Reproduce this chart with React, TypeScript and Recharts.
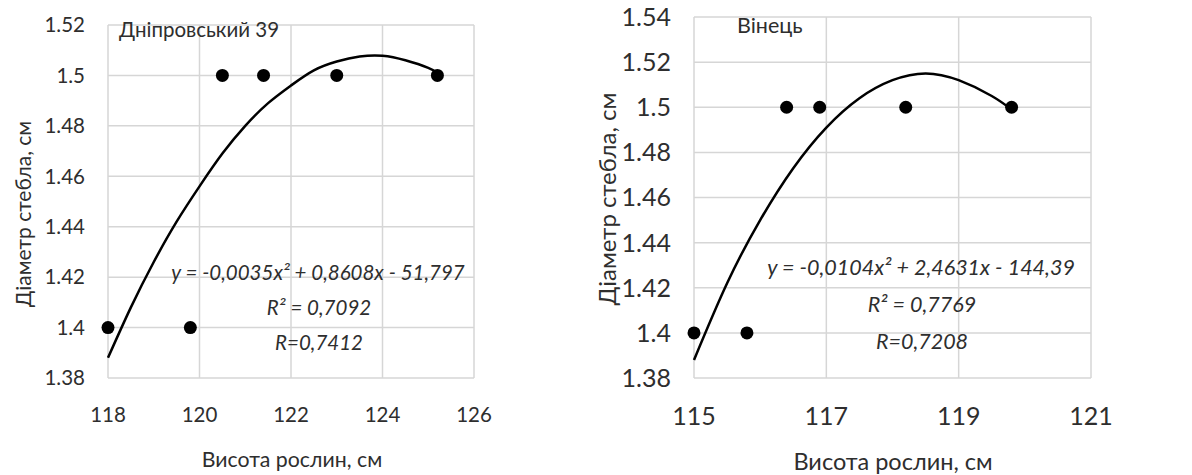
import React from 'react';
import { ComposedChart, Line, Scatter, XAxis, YAxis, CartesianGrid } from 'recharts';

// Дніпровський 39
const leftHeights = [118, 119.8, 120.5, 121.4, 123, 125.2];
const leftDiameters = [1.4, 1.4, 1.5, 1.5, 1.5, 1.5];
const leftTrendX = [118, 118.5, 119, 119.5, 120, 120.5, 121, 121.5, 122, 122.5, 123, 123.5, 124, 124.5, 125, 125.2];
const leftTrendY = [1.388, 1.408, 1.426, 1.442, 1.456, 1.469, 1.48, 1.489, 1.496, 1.502, 1.5055, 1.5075, 1.5078, 1.506, 1.503, 1.501];
const leftXTicks = [118, 120, 122, 124, 126];
const leftYTicks = [1.38, 1.4, 1.42, 1.44, 1.46, 1.48, 1.5, 1.52];

// Вінець
const rightHeights = [115, 115.8, 116.4, 116.9, 118.2, 119.8];
const rightDiameters = [1.4, 1.4, 1.5, 1.5, 1.5, 1.5];
const rightTrendX = [115, 115.5, 116, 116.5, 117, 117.5, 118, 118.5, 119, 119.5, 119.8];
const rightTrendY = [1.388, 1.422, 1.45, 1.473, 1.491, 1.504, 1.512, 1.515, 1.512, 1.505, 1.499];
const rightXTicks = [115, 117, 119, 121];
const rightYTicks = [1.38, 1.4, 1.42, 1.44, 1.46, 1.48, 1.5, 1.52, 1.54];

const FONT = 'Lato, "Open Sans", sans-serif';
const TXT = '#2e2e2e';

const zip = (xs: number[], ys: number[]) => xs.map((x, i) => ({ x, y: ys[i] }));

const Dot = (p: any) => <circle cx={p.cx} cy={p.cy} r={6.5} fill="#000" />;

type PanelProps = {
  left: number;
  width: number;
  margin: { top: number; right: number; left: number; bottom: number };
  yAxisWidth: number;
  xTicks: number[];
  yTicks: number[];
  points: { x: number; y: number }[];
  trend: { x: number; y: number }[];
  tickFont: number;
};

const Panel: React.FC<PanelProps> = ({ left, width, margin, yAxisWidth, xTicks, yTicks, points, trend, tickFont }) => (
  <div style={{ position: 'absolute', left, top: 0 }}>
    <ComposedChart width={width} height={475} margin={margin}>
      <CartesianGrid stroke="#d6d6d6" strokeWidth={1.5} />
      <XAxis
        type="number"
        dataKey="x"
        domain={[xTicks[0], xTicks[xTicks.length - 1]]}
        ticks={xTicks}
        axisLine={false}
        tickLine={false}
        tickSize={0}
        tickMargin={29}
        height={97}
        tick={{ fontSize: tickFont, fill: TXT, fontFamily: FONT }}
      />
      <YAxis
        type="number"
        dataKey="y"
        domain={[yTicks[0], yTicks[yTicks.length - 1]]}
        ticks={yTicks}
        axisLine={false}
        tickLine={false}
        tickSize={0}
        tickMargin={23}
        width={yAxisWidth}
        tick={{ fontSize: tickFont, fill: TXT, fontFamily: FONT }}
      />
      <Line data={trend} dataKey="y" type="natural" stroke="#000" strokeWidth={2.5} dot={false} isAnimationActive={false} />
      <Scatter data={points} dataKey="y" fill="#000" shape={Dot} isAnimationActive={false} />
    </ComposedChart>
  </div>
);

const Label: React.FC<{ x: number; y: number; size: number; italic?: boolean; rotate?: boolean; anchor?: 'left' | 'center'; children: React.ReactNode }> = ({ x, y, size, italic, rotate, anchor = 'center', children }) => (
  <div
    style={{
      position: 'absolute',
      left: x,
      top: y,
      transform: `translate(${anchor === 'center' ? '-50%' : '0'}, -50%)${rotate ? ' rotate(-90deg)' : ''}`,
      fontFamily: FONT,
      fontSize: size,
      fontStyle: italic ? 'italic' : 'normal',
      color: TXT,
      whiteSpace: 'nowrap',
      lineHeight: 1,
    }}
  >
    {children}
  </div>
);

export default function App() {
  return (
    <div style={{ position: 'absolute', left: 0, top: 0, width: 1192, height: 475, background: '#fff' }}>
      <Panel
        left={0}
        width={592}
        margin={{ top: 25, right: 118, left: 8, bottom: 0 }}
        yAxisWidth={100}
        xTicks={leftXTicks}
        yTicks={leftYTicks}
        points={zip(leftHeights, leftDiameters)}
        trend={zip(leftTrendX, leftTrendY)}
        tickFont={20.5}
      />
      <Panel
        left={592}
        width={600}
        margin={{ top: 17, right: 101, left: 2, bottom: 0 }}
        yAxisWidth={100}
        xTicks={rightXTicks}
        yTicks={rightYTicks}
        points={zip(rightHeights, rightDiameters)}
        trend={zip(rightTrendX, rightTrendY)}
        tickFont={25}
      />

      <Label x={119} y={29} size={20.5} anchor="left">Дніпровський 39</Label>
      <Label x={318} y={272} size={20.5} italic>y = -0,0035x² + 0,8608x - 51,797</Label>
      <Label x={319} y={307} size={20.5} italic>R² = 0,7092</Label>
      <Label x={319} y={342} size={20.5} italic>R=0,7412</Label>
      <Label x={292} y={460} size={21.3} >Висота рослин, см</Label>
      <Label x={22} y={214} size={21} rotate>Діаметр стебла, см</Label>

      <Label x={737} y={26} size={21.5} anchor="left">Вінець</Label>
      <Label x={921} y={268} size={21.5} italic>y = -0,0104x² + 2,4631x - 144,39</Label>
      <Label x={922} y={305} size={21.5} italic>R² = 0,7769</Label>
      <Label x={922} y={342} size={21.5} italic>R=0,7208</Label>
      <Label x={893} y={462} size={23.5}>Висота рослин, см</Label>
      <Label x={607} y={199} size={24} rotate>Діаметр стебла, см</Label>
    </div>
  );
}
